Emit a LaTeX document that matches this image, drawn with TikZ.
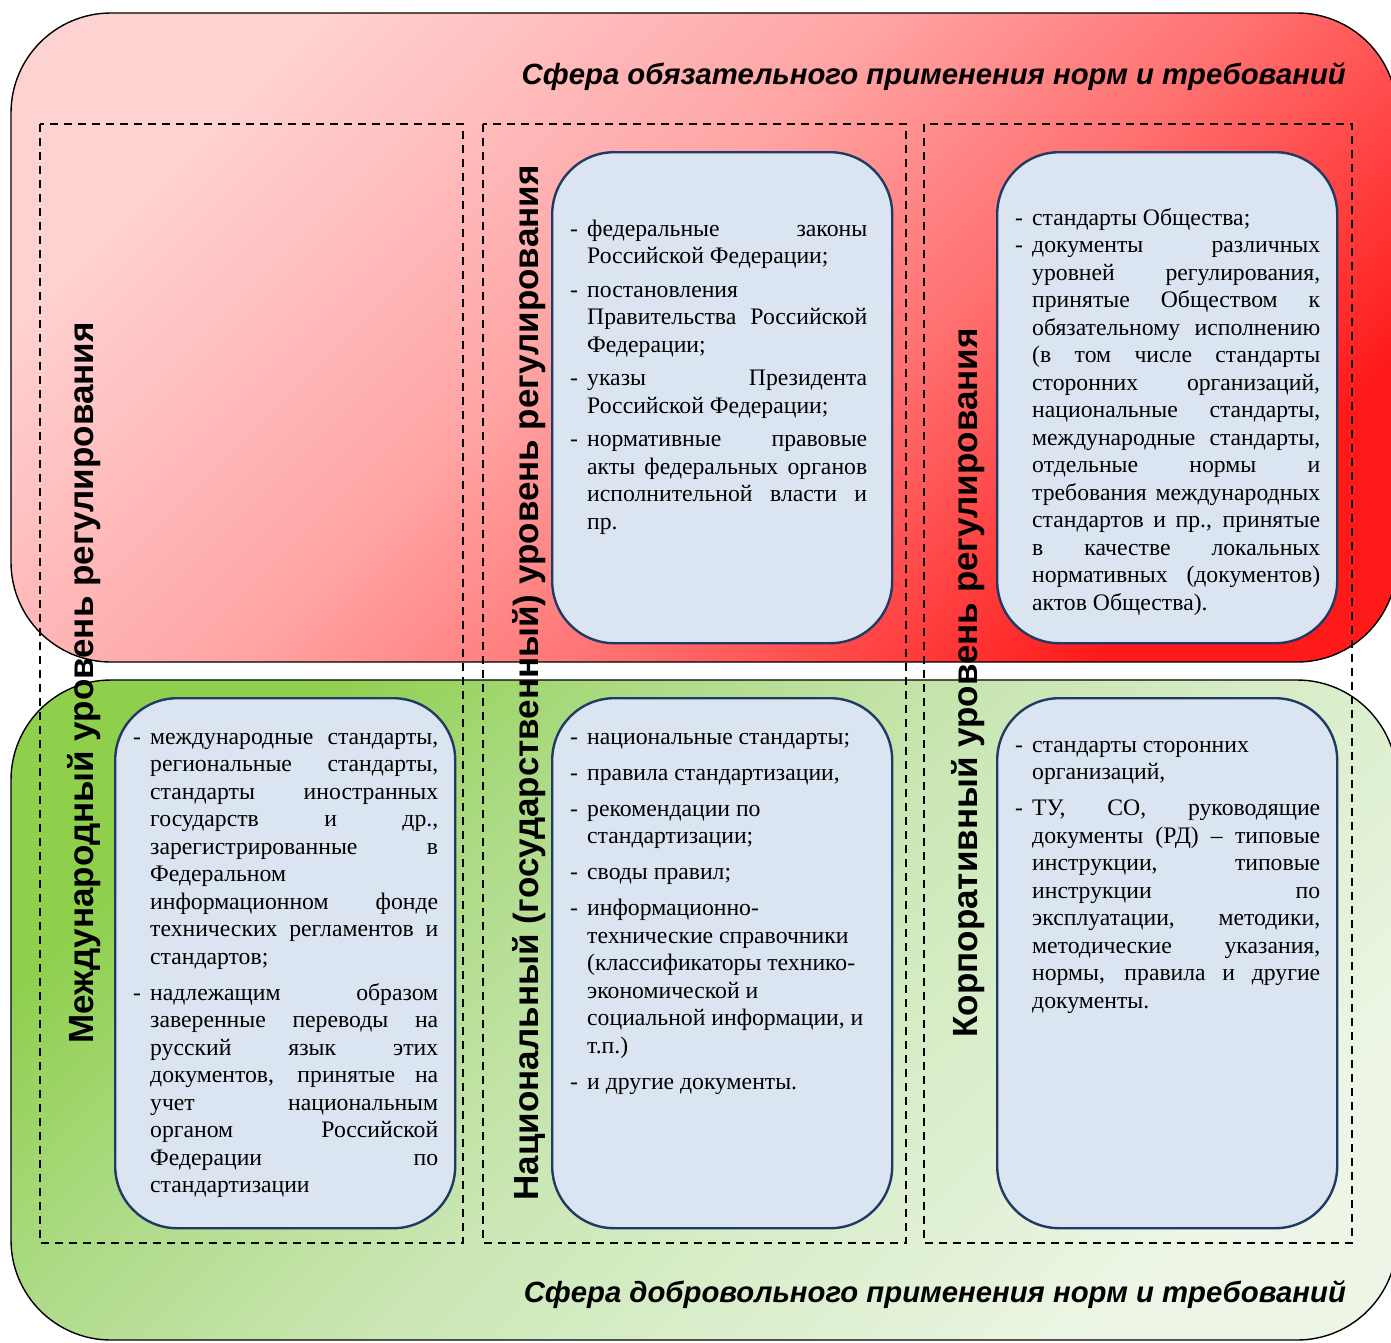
\documentclass[tikz,border=0pt]{standalone}
\usepackage{fontspec}
\setmainfont{Liberation Serif}
\newfontfamily\arialf{Liberation Sans}
\definecolor{redA}{HTML}{FFD2D2}
\definecolor{redB}{HTML}{FFA4A4}
\definecolor{redC}{HTML}{FF7070}
\definecolor{redD}{HTML}{FF1A1A}
\definecolor{grnA}{HTML}{8ECF4C}
\definecolor{grnA2}{HTML}{AEDB88}
\definecolor{grnB}{HTML}{CBE7B5}
\definecolor{grnC}{HTML}{EDF6E6}
\definecolor{boxfill}{HTML}{DBE5F1}
\definecolor{boxline}{HTML}{1F3A64}
\pgfdeclareverticalshading{redsh}{100bp}{color(0bp)=(redD); color(25bp)=(redD); color(42bp)=(redC); color(55bp)=(redB); color(75bp)=(redA); color(100bp)=(redA)}
\pgfdeclareverticalshading{grnsh}{100bp}{color(0bp)=(grnC); color(25bp)=(grnC); color(50bp)=(grnB); color(63bp)=(grnA2); color(75bp)=(grnA); color(100bp)=(grnA)}
\newcommand\itm[2][0pt]{\par\vspace{#1}\noindent\hangindent=17pt\hangafter=1\makebox[17pt][l]{-}#2\par}
\newcommand\fst{\rule{0pt}{19pt}}
\tikzset{
  zone/.style={draw=black, line width=1.4pt, rounded corners=100pt},
  col/.style={draw=black, dash pattern=on 8pt off 6pt, line width=2pt},
  bbox/.style={rectangle, draw=boxline, fill=boxfill, line width=2.4pt, rounded corners=62pt, inner sep=0pt, anchor=north west},
  body/.style={inner sep=0pt, anchor=north west, font=\fontsize{23.7}{27.5}\selectfont},
  vlab/.style={rotate=90, anchor=base, inner sep=0pt, font=\arialf\bfseries\fontsize{35}{35}\selectfont},
  ttl/.style={anchor=base east, inner sep=0pt, font=\arialf\bfseries\itshape\fontsize{29.3}{29.3}\selectfont},
}
\begin{document}
\begin{tikzpicture}[x=1pt,y=-1pt]
\useasboundingbox (0,0) rectangle (1391,1342);
\fill[white] (0,0) rectangle (1391,1342);
% zones
\shadedraw[zone, shading=redsh, shading angle=45] (11,13) rectangle (1397,662);
\shadedraw[zone, shading=grnsh, shading angle=45] (11,680) rectangle (1397,1340);
% titles
\node[ttl] (tt1) at (1346,84) {Сфера обязательного применения норм и требований};
\node[ttl] (tt2) at (1346,1302) {Сфера добровольного применения норм и требований};
% dashed columns
\draw[col] (40,124) rectangle (463,1243);
\draw[col] (483,124) rectangle (906,1243);
\draw[col] (924,124) rectangle (1352,1243);
% blue boxes
\node[bbox, minimum width=340pt, minimum height=491pt] (bTM) at (551,151) {};
\node[bbox, minimum width=340pt, minimum height=491pt] (bTR) at (996,151) {};
\node[bbox, minimum width=340pt, minimum height=530pt] (bBL) at (114,697) {};
\node[bbox, minimum width=340pt, minimum height=530pt] (bBM) at (551,697) {};
\node[bbox, minimum width=340pt, minimum height=530pt] (bBR) at (996,697) {};
% vertical labels
\node[vlab] (l1) at (93,683) {Международный уровень регулирования};
\node[vlab] (l2) at (538,683) {Национальный (государственный) уровень регулирования};
\node[vlab] (l3) at (977,683) {Корпоративный уровень регулирования};
% texts
\node[body] (xTM) at (570,217) {\parbox[t]{297pt}{%
\itm{\fst федеральные законы\linebreak Российской Федерации;}%
\itm[6pt]{постановления\linebreak Правительства Российской\linebreak Федерации;}%
\itm[6pt]{указы Президента\linebreak Российской Федерации;}%
\itm[6pt]{нормативные правовые\linebreak акты федеральных органов\linebreak исполнительной власти и\linebreak пр.}}};
\node[body] (xTR) at (1015,206) {\parbox[t]{305pt}{%
\itm{\fst стандарты Общества;}%
\itm{документы различных\linebreak уровней регулирования,\linebreak принятые Обществом к\linebreak обязательному исполнению\linebreak (в том числе стандарты\linebreak сторонних организаций,\linebreak национальные стандарты,\linebreak международные стандарты,\linebreak отдельные нормы и\linebreak требования международных\linebreak стандартов и пр., принятые\linebreak в качестве локальных\linebreak нормативных (документов)\linebreak актов Общества).}}};
\node[body] (xBL) at (133,725) {\parbox[t]{305pt}{%
\itm{\fst международные стандарты,\linebreak региональные стандарты,\linebreak стандарты иностранных\linebreak государств и др.,\linebreak зарегистрированные в\linebreak Федеральном\linebreak информационном фонде\linebreak технических регламентов и\linebreak стандартов;}%
\itm[8.5pt]{надлежащим образом\linebreak заверенные переводы на\linebreak русский язык этих\linebreak документов, принятые на\linebreak учет национальным\linebreak органом Российской\linebreak Федерации по\linebreak стандартизации}}};
\node[body] (xBM) at (570,725) {\parbox[t]{305pt}{\raggedright
\itm{\fst национальные стандарты;}%
\itm[8.5pt]{правила стандартизации,}%
\itm[8.5pt]{рекомендации по\newline стандартизации;}%
\itm[8.5pt]{своды правил;}%
\itm[8.5pt]{информационно-\newline технические справочники\newline (классификаторы технико-\newline экономической и\newline социальной информации, и\newline т.п.)}%
\itm[8.5pt]{и другие документы.}}};
\node[body] (xBR) at (1015,733) {\parbox[t]{305pt}{%
\itm{\fst стандарты сторонних\hfil\break организаций,}%
\itm[8.5pt]{ТУ, СО, руководящие\linebreak документы (РД) – типовые\linebreak инструкции, типовые\linebreak инструкции по\linebreak эксплуатации, методики,\linebreak методические указания,\linebreak нормы, правила и другие\linebreak документы.}}};
\end{tikzpicture}
\end{document}
